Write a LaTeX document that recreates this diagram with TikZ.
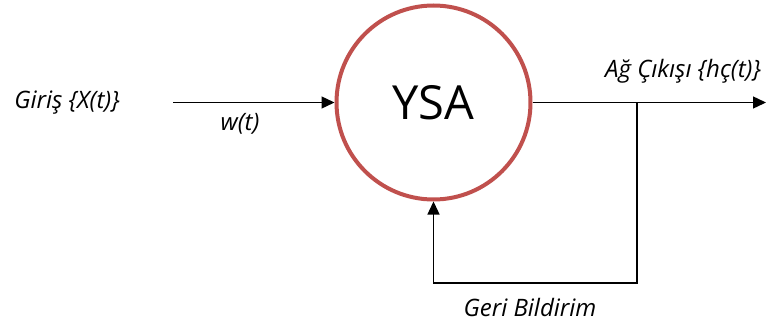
\documentclass[tikz,border=0pt]{standalone}
\usepackage{fontspec}
\setmainfont{Open Sans}
\usetikzlibrary{arrows.meta}
\definecolor{YSARed}{RGB}{192,80,77}

\begin{document}
\begin{tikzpicture}[x=1pt, y=-1pt, >={Triangle[length=13pt,width=12pt]}, line width=1.4pt]
\pgfmathsetmacro{\yc}{102.5} % y of the main signal line
\pgfmathsetmacro{\xf}{637} % x of the feedback branch
\pgfmathsetmacro{\yf}{283} % y of the lower feedback line

\useasboundingbox (0,0) rectangle (766,324); % page

\node[circle, draw=YSARed, line width=4pt, minimum size=194pt, inner sep=0pt, font=\fontsize{47}{50}\selectfont] (ysa) at (433.5,\yc) {YSA}; % network
\node[font=\itshape\fontsize{24}{28}\selectfont] (giris) at (67,\yc) {Giriş \{X(t)\}}; % input
\node[font=\itshape\fontsize{24}{28}\selectfont] (wt) at (240,124) {w(t)}; % weight
\node[font=\itshape\fontsize{24}{28}\selectfont] (cikis) at (683,71) {Ağ Çıkışı \{hç(t)\}}; % output
\node[font=\itshape\fontsize{24}{28}\selectfont] (geri) at (530,307) {Geri Bildirim}; % feedback

\coordinate (start) at (173,\yc); % input arrow start
\coordinate (end) at (766,\yc); % output arrow end
\coordinate (split) at (\xf,\yc); % branch point
\coordinate (low) at (\xf,\yf); % lower right corner

\draw[->] (start) -- (ysa.west); % input
\draw[->] (ysa.east) -- (end); % output
\draw[->] (split) -- (low) -| (ysa.south); % feedback loop

\end{tikzpicture}
\end{document}
